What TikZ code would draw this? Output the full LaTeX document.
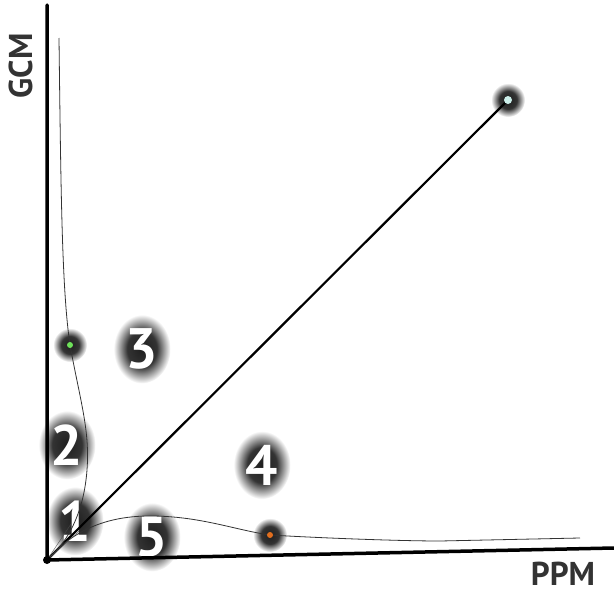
\documentclass[tikz,border=0pt]{standalone}
\usepackage{fontspec}
\setsansfont{PT Sans}
\usetikzlibrary{positioning, calc, shapes.geometric}

\definecolor{gdot}{RGB}{110,225,90}
\definecolor{odot}{RGB}{225,110,30}
\definecolor{bdot}{RGB}{205,240,235}

\pgfdeclareradialshading{haloshade}{\pgfpoint{0bp}{0bp}}{color(0bp)=(black!88); color(13bp)=(black!80); color(25bp)=(white); color(50bp)=(white)}

\tikzset{
  axis/.style={line width=3.5pt, line cap=round},
  curve/.style={line width=0.8pt, black!80},
  fan/.style={line width=0.4pt, black!70},
  halo/.style={circle, minimum size=34pt, inner sep=0pt, shade, shading=haloshade},
  zone/.style={ellipse, inner sep=4pt, shade, shading=haloshade, text=white,
    font=\sffamily\bfseries\fontsize{57}{57}\selectfont},
  axislabel/.style={inner sep=1pt, font=\sffamily\bfseries\fontsize{33}{33}\selectfont, text=black!80},
}

\begin{document}
\begin{tikzpicture}[x=1pt, y=-1pt]

  % background and frame of the picture
  \fill[white] (0,0) rectangle (614,597);
  \useasboundingbox (0,0) rectangle (614,597);

  % glowing points
  \node [halo] (blue) at (508,100) {};
  \node [halo] (green) at (70,345) {};
  \node [halo] (orange) at (270,535) {};

  % numbered zones
  \node [zone] (z1) at (75,521) {1};
  \node [zone] (z2) at (67,445) {2};
  \node [zone] (z3) at (142,349) {3};
  \node [zone] (z4) at (262,465) {4};
  \node [zone] (z5) at (152,537) {5};

  % --- axes ---
  \coordinate (O) at (47,560);
  \coordinate (ytop) at (47,5);
  \coordinate (xend) at (614,548);
  \draw [axis] (ytop) -- (O) -- (xend);

  \node [axislabel, rotate=90] (gcm) at (21,66) {GCM};
  \node [axislabel] (ppm) at (563,574) {PPM};

  % --- diagonal ---
  \draw [line width=2.2pt] (O) -- (blue.center);

  % --- curves ---
  \coordinate (vtop) at (59,38);
  \draw [curve] (vtop) .. controls (61,200) and (62,290) .. (green.center)
    .. controls (80,400) and (90,430) .. (87,470)
    .. controls (84,510) and (70,540) .. (O);

  \coordinate (hend) at (580,538);
  \draw [curve] (O) .. controls (75,528) and (110,516) .. (150,516)
    .. controls (200,516) and (235,530) .. (orange.center)
    .. controls (320,538) and (400,541) .. (440,541) -- (hend);

  \coordinate (f1) at (71,524);
  \coordinate (f2) at (79,531);
  \draw [fan] (O) -- (f1);
  \draw [fan] (O) -- (f2);

  % point centres
  \fill [bdot] (blue) circle (4pt);
  \fill [gdot] (green) circle (3pt);
  \fill [odot] (orange) circle (3pt);
  \fill (O) circle (4pt);

\end{tikzpicture}
\end{document}
